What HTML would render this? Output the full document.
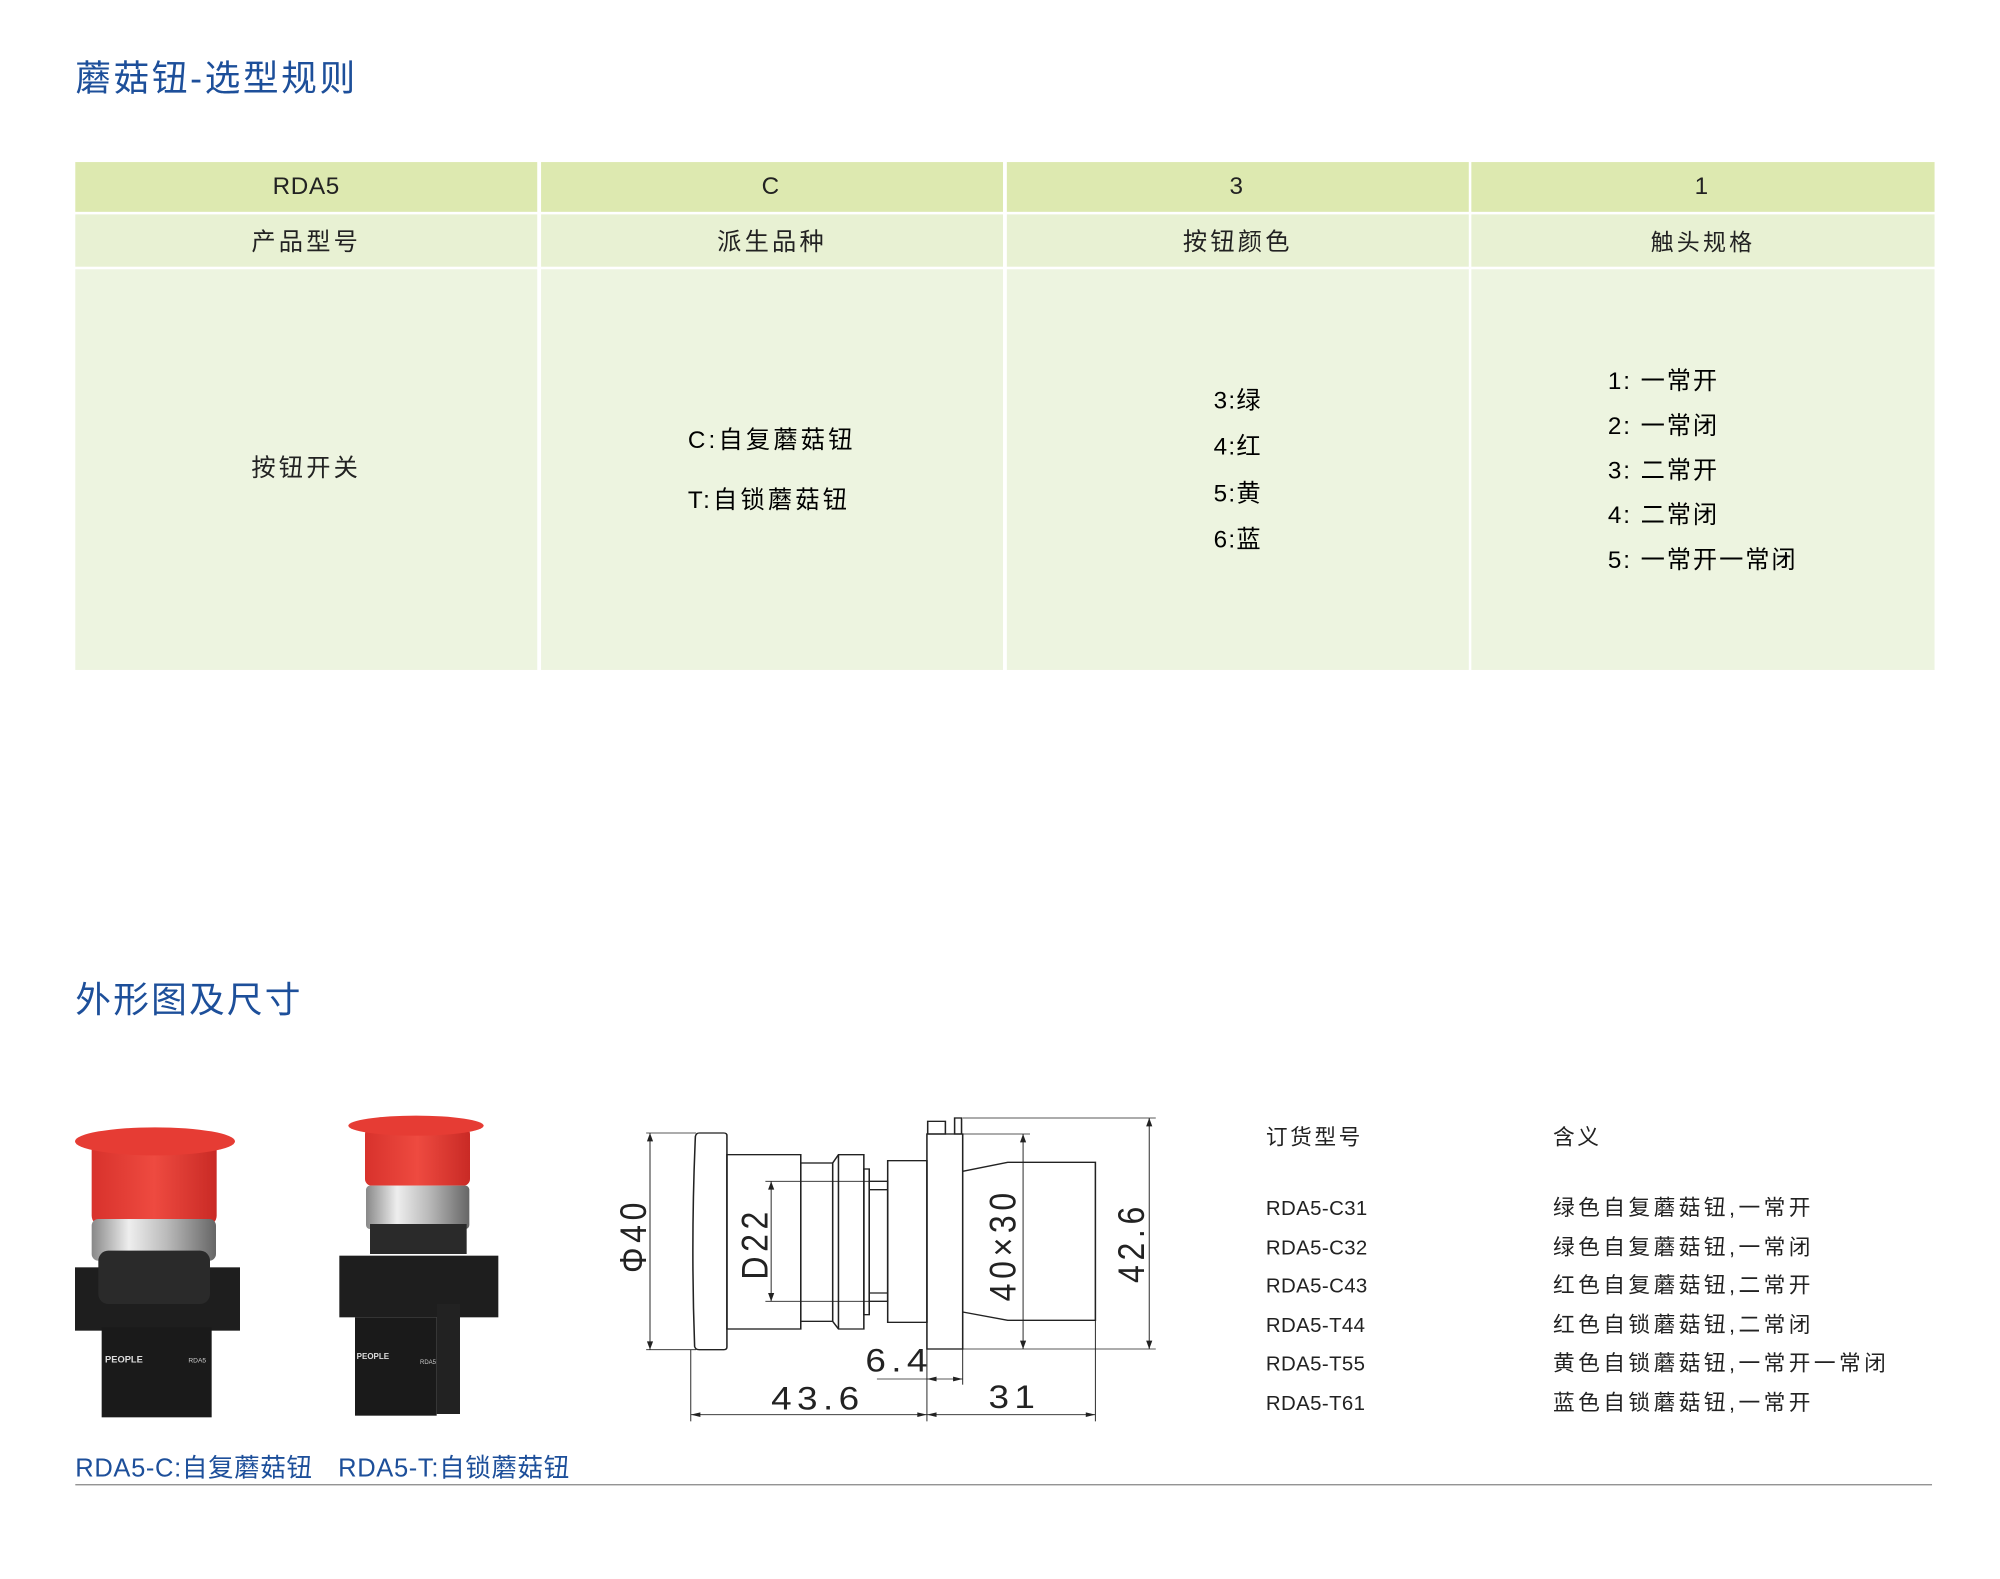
<!DOCTYPE html>
<html><head><meta charset="utf-8"><style>
html,body{margin:0;padding:0;background:#fff;}
body{width:2000px;height:1578px;position:relative;overflow:hidden;font-family:"Liberation Sans","Noto Sans CJK SC",sans-serif;}
#c{position:absolute;left:0;top:0;width:1568px;height:1237px;transform:scale(1.2761);transform-origin:0 0;}
.a{position:absolute;white-space:nowrap;}
.t{color:#1d4f9a;font-size:28px;}
.cell{position:absolute;display:flex;align-items:center;justify-content:center;font-size:19px;color:#222;letter-spacing:2.5px;}
.r1{background:#dde9b0;}
.r2{background:#e8f1d3;}
.r3{background:#edf4e0;}
.s{font-size:16px;color:#222;}
</style></head><body>
<div id="c">
<div class="a t" style="left:59px;top:40px;letter-spacing:2px;">蘑菇钮-选型规则</div>
<div class="a t" style="left:59px;top:762px;letter-spacing:1.7px;">外形图及尺寸</div>

<div class="cell r1" style="left:59px;top:127px;width:362px;height:39px;letter-spacing:0.5px;">RDA5</div>
<div class="cell r1" style="left:424px;top:127px;width:362px;height:39px;">C</div>
<div class="cell r1" style="left:789px;top:127px;width:362px;height:39px;">3</div>
<div class="cell r1" style="left:1153px;top:127px;width:363px;height:39px;">1</div>
<div class="cell r2" style="left:59px;top:168px;width:362px;height:41px;">产品型号</div>
<div class="cell r2" style="left:424px;top:168px;width:362px;height:41px;">派生品种</div>
<div class="cell r2" style="left:789px;top:168px;width:362px;height:41px;">按钮颜色</div>
<div class="cell r2" style="left:1153px;top:168px;width:363px;height:41px;font-size:18px;">触头规格</div>
<div class="cell r3" style="left:59px;top:211px;width:362px;height:314px;padding-bottom:6px;box-sizing:border-box;">按钮开关</div>
<div class="cell r3" style="left:424px;top:211px;width:362px;height:314px;"></div>
<div class="cell r3" style="left:789px;top:211px;width:362px;height:314px;"></div>
<div class="cell r3" style="left:1153px;top:211px;width:363px;height:314px;"></div>
<div class="a" style="left:539px;top:330px;font-size:19px;letter-spacing:2.5px;">C:自复蘑菇钮</div>
<div class="a" style="left:539px;top:377px;font-size:19px;letter-spacing:2.5px;">T:自锁蘑菇钮</div>
<div class="a" style="left:951px;top:297px;font-size:19px;line-height:36.3px;letter-spacing:1px;">3:绿<br>4:红<br>5:黄<br>6:蓝</div>
<div class="a" style="left:1260px;top:282px;font-size:19px;line-height:35px;letter-spacing:1.5px;">1: 一常开<br>2: 一常闭<br>3: 二常开<br>4: 二常闭<br>5: 一常开一常闭</div>

<div class="a s" style="left:992px;top:877px;font-size:17px;letter-spacing:2px;">订货型号</div>
<div class="a s" style="left:1217px;top:877px;font-size:17px;letter-spacing:2px;">含义</div>
<div class="a s" style="left:992px;top:933px;line-height:30.5px;letter-spacing:0.3px;">RDA5-C31<br>RDA5-C32<br>RDA5-C43<br>RDA5-T44<br>RDA5-T55<br>RDA5-T61</div>
<div class="a s" style="left:1217px;top:932px;line-height:30.5px;font-size:17px;letter-spacing:2.7px;">绿色自复蘑菇钮,一常开<br>绿色自复蘑菇钮,一常闭<br>红色自复蘑菇钮,二常开<br>红色自锁蘑菇钮,二常闭<br>黄色自锁蘑菇钮,一常开一常闭<br>蓝色自锁蘑菇钮,一常开</div>

<div class="a" style="left:59px;top:1134px;font-size:20px;color:#1d4f9a;letter-spacing:0.5px;">RDA5-C:自复蘑菇钮</div>
<div class="a" style="left:265px;top:1134px;font-size:20px;color:#1d4f9a;letter-spacing:0.5px;">RDA5-T:自锁蘑菇钮</div>
<div class="a" style="left:59px;top:1163px;width:1455px;height:1px;background:#888;"></div>
</div>

<svg style="position:absolute;left:60px;top:1104px;" width="460" height="380" viewBox="0 0 1380 1140">
<defs>
<linearGradient id="rg" x1="0" x2="1"><stop offset="0" stop-color="#d8322c"/><stop offset=".5" stop-color="#ee4a40"/><stop offset="1" stop-color="#c92a25"/></linearGradient>
<linearGradient id="sg" x1="0" x2="1"><stop offset="0" stop-color="#888"/><stop offset=".3" stop-color="#eee"/><stop offset=".6" stop-color="#bbb"/><stop offset="1" stop-color="#666"/></linearGradient>
</defs>
<rect x="95" y="110" width="375" height="255" rx="30" fill="url(#rg)"/>
<ellipse cx="285" cy="112" rx="240" ry="42" fill="#e63c34"/>
<rect x="95" y="345" width="373" height="125" rx="20" fill="url(#sg)"/>
<rect x="45" y="490" width="495" height="190" fill="#1e1e1e"/>
<rect x="115" y="440" width="335" height="160" rx="30" fill="#2a2a2a"/>
<rect x="125" y="670" width="330" height="270" fill="#1a1a1a"/>
<text x="135" y="775" font-size="28" fill="#ddd" font-family="Liberation Sans" font-weight="bold">PEOPLE</text>
<text x="385" y="775" font-size="20" fill="#ccc" font-family="Liberation Sans">RDA5</text>
<rect x="915" y="70" width="315" height="175" rx="20" fill="url(#rg)"/>
<ellipse cx="1068" cy="65" rx="203" ry="30" fill="#e63c34"/>
<rect x="918" y="245" width="310" height="130" rx="12" fill="url(#sg)"/>
<rect x="930" y="360" width="290" height="90" fill="#2a2a2a"/>
<rect x="838" y="455" width="477" height="185" fill="#1e1e1e"/>
<rect x="885" y="640" width="245" height="295" fill="#1a1a1a"/>
<rect x="1130" y="600" width="70" height="330" fill="#222"/>
<text x="890" y="765" font-size="24" fill="#ddd" font-family="Liberation Sans" font-weight="bold">PEOPLE</text>
<text x="1080" y="780" font-size="18" fill="#ccc" font-family="Liberation Sans">RDA5</text>
</svg>

<svg style="position:absolute;left:600px;top:1093px;" width="600" height="350" viewBox="0 -20 1560 1050" preserveAspectRatio="none" fill="none" stroke="#222" stroke-width="4">
<path d="M258,100 L322,100 Q330,100 330,108 L330,742 Q330,750 322,750 L258,750 Q248,750 246,740 Q236,425 248,110 Q250,100 258,100Z"/>
<rect x="330" y="165" width="192" height="523"/>
<rect x="522" y="190" width="83" height="475"/>
<path d="M605,190 L620,165 L686,165 L686,688 L620,688 L605,665"/>
<line x1="620" y1="165" x2="620" y2="688"/>
<rect x="686" y="208" width="14" height="437"/>
<rect x="700" y="245" width="48" height="360"/>
<line x1="700" y1="270" x2="748" y2="270"/><line x1="700" y1="580" x2="748" y2="580"/>
<rect x="748" y="183" width="102" height="485"/>
<rect x="850" y="103" width="93" height="645"/>
<rect x="852" y="65" width="46" height="38"/>
<rect x="922" y="55" width="18" height="48"/>
<path d="M943,215 L1060,188 L1288,188 L1288,662 L1060,662 L943,637"/>
<g stroke-width="2.5">
<line x1="120" y1="100" x2="250" y2="100"/><line x1="120" y1="750" x2="250" y2="750"/>
<line x1="130" y1="100" x2="130" y2="750"/>
<line x1="430" y1="245" x2="748" y2="245"/><line x1="430" y1="605" x2="748" y2="605"/>
<line x1="445" y1="245" x2="445" y2="605"/>
<line x1="943" y1="103" x2="1118" y2="103"/><line x1="943" y1="748" x2="1445" y2="748"/>
<line x1="1100" y1="103" x2="1100" y2="748"/>
<line x1="943" y1="55" x2="1445" y2="55"/>
<line x1="1428" y1="55" x2="1428" y2="748"/>
<line x1="850" y1="748" x2="850" y2="965"/><line x1="943" y1="748" x2="943" y2="855"/>
<line x1="720" y1="838" x2="943" y2="838"/>
<line x1="236" y1="750" x2="236" y2="965"/><line x1="1288" y1="662" x2="1288" y2="965"/>
<line x1="236" y1="945" x2="1288" y2="945"/>
</g>
<g fill="#222" stroke="none">
<path d="M130,100 l-8,25 h16z"/><path d="M130,750 l-8,-25 h16z"/>
<path d="M445,245 l-8,25 h16z"/><path d="M445,605 l-8,-25 h16z"/>
<path d="M1100,103 l-8,25 h16z"/><path d="M1100,748 l-8,-25 h16z"/>
<path d="M1428,55 l-8,25 h16z"/><path d="M1428,748 l-8,-25 h16z"/>
<path d="M850,838 l25,-7 v14z"/><path d="M943,838 l-25,-7 v14z"/>
<path d="M236,945 l25,-7 v14z"/><path d="M850,945 l-25,-7 v14z"/>
<path d="M850,945 l25,-7 v14z"/><path d="M1288,945 l-25,-7 v14z"/>
</g>
<g fill="#222" stroke="none" font-family="Liberation Sans" font-size="96" letter-spacing="14">
<text transform="translate(120,520) rotate(-90)">Φ40</text>
<text transform="translate(435,540) rotate(-90)">D22</text>
<text transform="translate(1080,605) rotate(-90)">40×30</text>
<text transform="translate(1415,550) rotate(-90)">42.6</text>
<text x="690" y="815">6.4</text>
<text x="445" y="930">43.6</text>
<text x="1010" y="925">31</text>
</g>
</svg>
</body></html>
